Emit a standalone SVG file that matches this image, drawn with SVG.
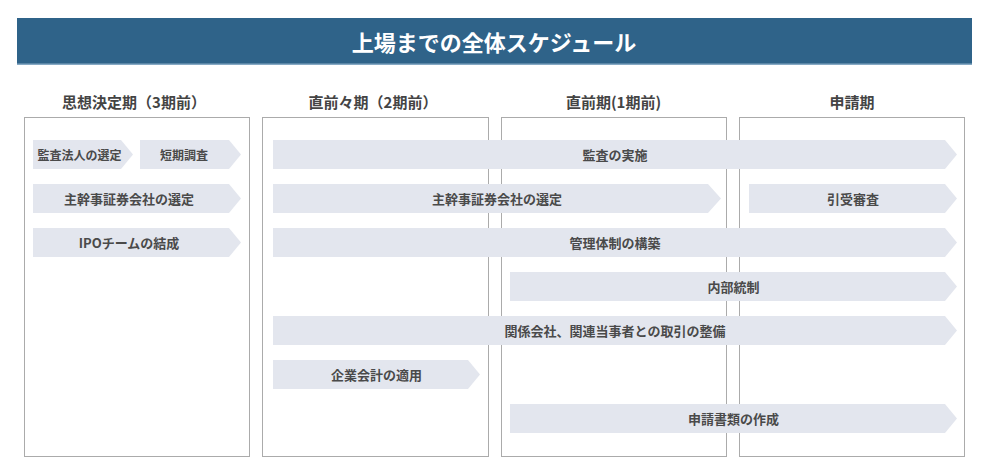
<svg xmlns="http://www.w3.org/2000/svg" width="988" height="473" viewBox="0 0 988 473">
<style>
text{font-family:"Noto Sans CJK JP","Noto Sans",sans-serif;font-weight:bold;text-anchor:middle;dominant-baseline:central}
.title{fill:#ffffff;font-size:22px}
.head{fill:#444444;font-size:15px}
.col{fill:#ffffff;stroke:#ababab;stroke-width:1}
.arr{fill:#e3e6ee}
.lbl{fill:#4a4a4a;font-size:13px}
.sm{font-size:12px}
</style>
<rect width="988" height="473" fill="#ffffff"/>
<g id="header">
<rect x="17" y="18" width="955" height="46" fill="#2f6389"/>
<rect x="17" y="63.5" width="955" height="1.5" fill="#86a9c4"/>
<text class="title" x="494" y="41">上場までの全体スケジュール</text>
</g>
<g id="col1"><rect class="col" x="24.5" y="117.5" width="225" height="339"/><text class="head" x="134" y="101.5">思想決定期（3期前）</text></g>
<g id="col2"><rect class="col" x="262.5" y="117.5" width="226" height="339"/><text class="head" x="373" y="101.5">直前々期（2期前）</text></g>
<g id="col3"><rect class="col" x="501.5" y="117.5" width="225" height="339"/><text class="head" x="613.5" y="101.5">直前期(1期前)</text></g>
<g id="col4"><rect class="col" x="739.5" y="117.5" width="225" height="339"/><text class="head" x="852" y="101.5">申請期</text></g>
<g id="connectors"></g>
<g id="a1"><path class="arr" d="M33 140H121L133 154.5L121 169H33Z"/><text class="lbl sm" x="79.5" y="154.5">監査法人の選定</text></g>
<g id="a2"><path class="arr" d="M140 140H229L241 154.5L229 169H140Z"/><text class="lbl sm" x="184" y="154.5">短期調査</text></g>
<g id="a3"><path class="arr" d="M33 184H229L241 198.5L229 213H33Z"/><text class="lbl" x="129" y="198.5">主幹事証券会社の選定</text></g>
<g id="a4"><path class="arr" d="M33 228H229L241 242.5L229 257H33Z"/><text class="lbl" x="129" y="242.5">IPOチームの結成</text></g>
<g id="a5"><path class="arr" d="M273 140H945L957 154.5L945 169H273Z"/><text class="lbl" x="615" y="154.5">監査の実施</text></g>
<g id="a6"><path class="arr" d="M273 184H708L721 198.5L708 213H273Z"/><text class="lbl" x="497" y="198.5">主幹事証券会社の選定</text></g>
<g id="a7"><path class="arr" d="M749 184H945L957 198.5L945 213H749Z"/><text class="lbl" x="853" y="198.5">引受審査</text></g>
<g id="a8"><path class="arr" d="M273 228H945L957 242.5L945 257H273Z"/><text class="lbl" x="615" y="242.5">管理体制の構築</text></g>
<g id="a9"><path class="arr" d="M510 272H945L957 286.5L945 301H510Z"/><text class="lbl" x="733.5" y="286.5">内部統制</text></g>
<g id="a10"><path class="arr" d="M273 316H945L957 330.5L945 345H273Z"/><text class="lbl" x="615" y="330.5">関係会社、関連当事者との取引の整備</text></g>
<g id="a11"><path class="arr" d="M273 360H468L480 374.5L468 389H273Z"/><text class="lbl" x="376.5" y="374.5">企業会計の適用</text></g>
<g id="a12"><path class="arr" d="M510 404H945L957 418.5L945 433H510Z"/><text class="lbl" x="733.5" y="418.5">申請書類の作成</text></g>
</svg>
